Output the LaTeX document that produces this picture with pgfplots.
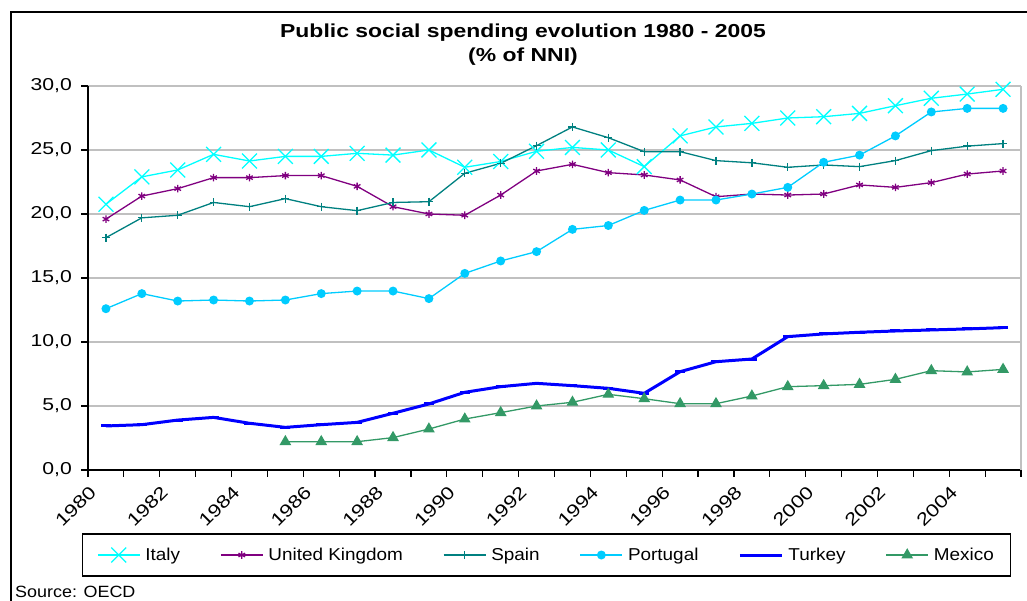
\documentclass[border=0pt]{standalone}
\usepackage{fontspec}
\setmainfont{Liberation Sans}
\newfontfamily\tickfamily{Liberation Sans}[FakeStretch=1.23]
\newfontfamily\legfamily{Liberation Sans}[FakeStretch=1.1]
\newfontfamily\titlefamily{Liberation Sans}[FakeStretch=1.22]
\usepackage{pgfplots}
\usepackage{pgfplotstable}
\pgfplotsset{compat=1.18}
\definecolor{cItaly}{RGB}{0,255,255}
\definecolor{cUK}{RGB}{128,0,128}
\definecolor{cSpain}{RGB}{0,128,128}
\definecolor{cPort}{RGB}{0,204,255}
\definecolor{cTurkey}{RGB}{0,0,255}
\definecolor{cMexico}{RGB}{51,153,102}
\definecolor{cGrid}{RGB}{192,192,192}
\pgfplotstableread{
year Italy UK Spain Portugal Turkey Mexico
1980 20.76 19.60 18.15 12.60 3.44 nan
1981 22.90 21.40 19.70 13.78 3.54 nan
1982 23.44 21.98 19.90 13.20 3.90 nan
1983 24.66 22.84 20.90 13.28 4.11 nan
1984 24.14 22.84 20.57 13.20 3.65 nan
1985 24.50 23.00 21.20 13.28 3.33 2.21
1986 24.50 23.00 20.57 13.78 3.54 2.21
1987 24.74 22.16 20.26 13.98 3.72 2.21
1988 24.60 20.57 20.90 13.98 4.43 2.53
1989 25.00 20.00 20.96 13.39 5.16 3.20
1990 23.65 19.90 23.18 15.36 6.07 3.98
1991 24.10 21.48 23.96 16.33 6.51 4.48
1992 24.90 23.36 25.34 17.06 6.77 5.00
1993 25.20 23.88 26.80 18.80 6.59 5.29
1994 25.00 23.23 25.96 19.10 6.38 5.91
1995 23.70 23.05 24.87 20.28 5.99 5.57
1996 26.10 22.66 24.87 21.09 7.68 5.18
1997 26.80 21.35 24.17 21.09 8.46 5.18
1998 27.08 21.56 24.00 21.56 8.67 5.78
1999 27.50 21.48 23.65 22.08 10.42 6.51
2000 27.60 21.56 23.83 24.04 10.63 6.59
2001 27.86 22.27 23.70 24.60 10.76 6.69
2002 28.46 22.08 24.17 26.10 10.86 7.08
2003 29.04 22.45 24.95 27.97 10.94 7.76
2004 29.37 23.12 25.30 28.25 11.02 7.66
2005 29.74 23.36 25.50 28.25 11.12 7.86
}\datatable
\begin{document}
\begin{tikzpicture}[x=1bp,y=1bp]
\useasboundingbox (0,0) rectangle (1027,601);
\draw[line width=1.6bp] (11,-2) -- (11,589) -- (1030,589);
\node[anchor=base, font=\titlefamily\fontsize{18.8bp}{22bp}\selectfont\bfseries] at (523,563) {Public social spending evolution 1980 - 2005};
\node[anchor=base, font=\titlefamily\fontsize{18.8bp}{22bp}\selectfont\bfseries] at (523,539) {(\% of NNI)};
\node[anchor=base west, inner sep=0pt, font=\legfamily\fontsize{16.3bp}{19bp}\selectfont] at (15,3) {Source: OECD};
\begin{axis}[
  at={(88bp,131bp)}, anchor=south west,
  scale only axis, width=933bp, height=384bp,
  xmin=1979.5, xmax=2005.5, ymin=0, ymax=30,
  enlargelimits=false, clip=false,
  axis lines*=left, axis line style={-, line width=1.3bp, black},
  tick align=outside, major tick length=7bp,
  tick style={line width=1.2bp, black},
  xtick={1979.5,1980.5,...,2005.5}, xticklabels={},
  extra x ticks={1980,1982,...,2004},
  extra x tick labels={1980,1982,1984,1986,1988,1990,1992,1994,1996,1998,2000,2002,2004},
  extra x tick style={major tick length=0pt},
  xticklabel style={font=\tickfamily\fontsize{17.8bp}{20bp}\selectfont, inner sep=0pt, anchor=east, xshift=-13bp, yshift=-19bp, rotate=45},
  ytick={0,5,...,30},
  yticklabel style={font=\tickfamily\fontsize{17.2bp}{20bp}\selectfont, inner sep=0pt, anchor=east, xshift=-9bp,
    /pgf/number format/.cd, fixed, fixed zerofill, precision=1, use comma},
  /pgf/number format/assume math mode=true,
  ymajorgrids, major grid style={line width=1.3bp, cGrid},
  unbounded coords=jump,
  legend columns=6,
  legend style={at={(0.4914,-0.2214)}, anchor=center, draw=black, line width=1.2bp,
    inner xsep=15bp, inner ysep=12bp,
    font=\legfamily\fontsize{17.2bp}{20bp}\selectfont,
    /tikz/every odd column/.append style={column sep=3bp},
    /tikz/every even column/.append style={column sep=38bp}},
  legend image code/.code={\draw[mark repeat=2,mark phase=2] plot coordinates {(0bp,0bp) (21bp,0bp) (42bp,0bp)};},
]
\addplot[color=cItaly, line width=1.3bp, mark=x, mark size=10.5bp] table[x=year,y=Italy]{\datatable};
\addlegendentry{Italy}
\addplot[color=cUK, line width=1.3bp, mark=asterisk, mark size=3.8bp] table[x=year,y=UK]{\datatable};
\addlegendentry{United Kingdom}
\addplot[color=cSpain, line width=1.3bp, mark=+, mark size=4bp] table[x=year,y=Spain]{\datatable};
\addlegendentry{Spain}
\addplot[color=cPort, line width=1.3bp, mark=*, mark size=3.8bp, mark options={fill=cPort}] table[x=year,y=Portugal]{\datatable};
\addlegendentry{Portugal}
\addplot[color=cTurkey, line width=3bp, mark=-, mark size=5bp] table[x=year,y=Turkey]{\datatable};
\addlegendentry{Turkey}
\addplot[color=cMexico, line width=1.3bp, mark=triangle*, mark size=5.5bp, mark options={fill=cMexico}] table[x=year,y=Mexico]{\datatable};
\addlegendentry{Mexico}
\draw[cGrid, line width=1.3bp] (rel axis cs:1,0) -- (rel axis cs:1,1);
\end{axis}
\end{tikzpicture}
\end{document}
